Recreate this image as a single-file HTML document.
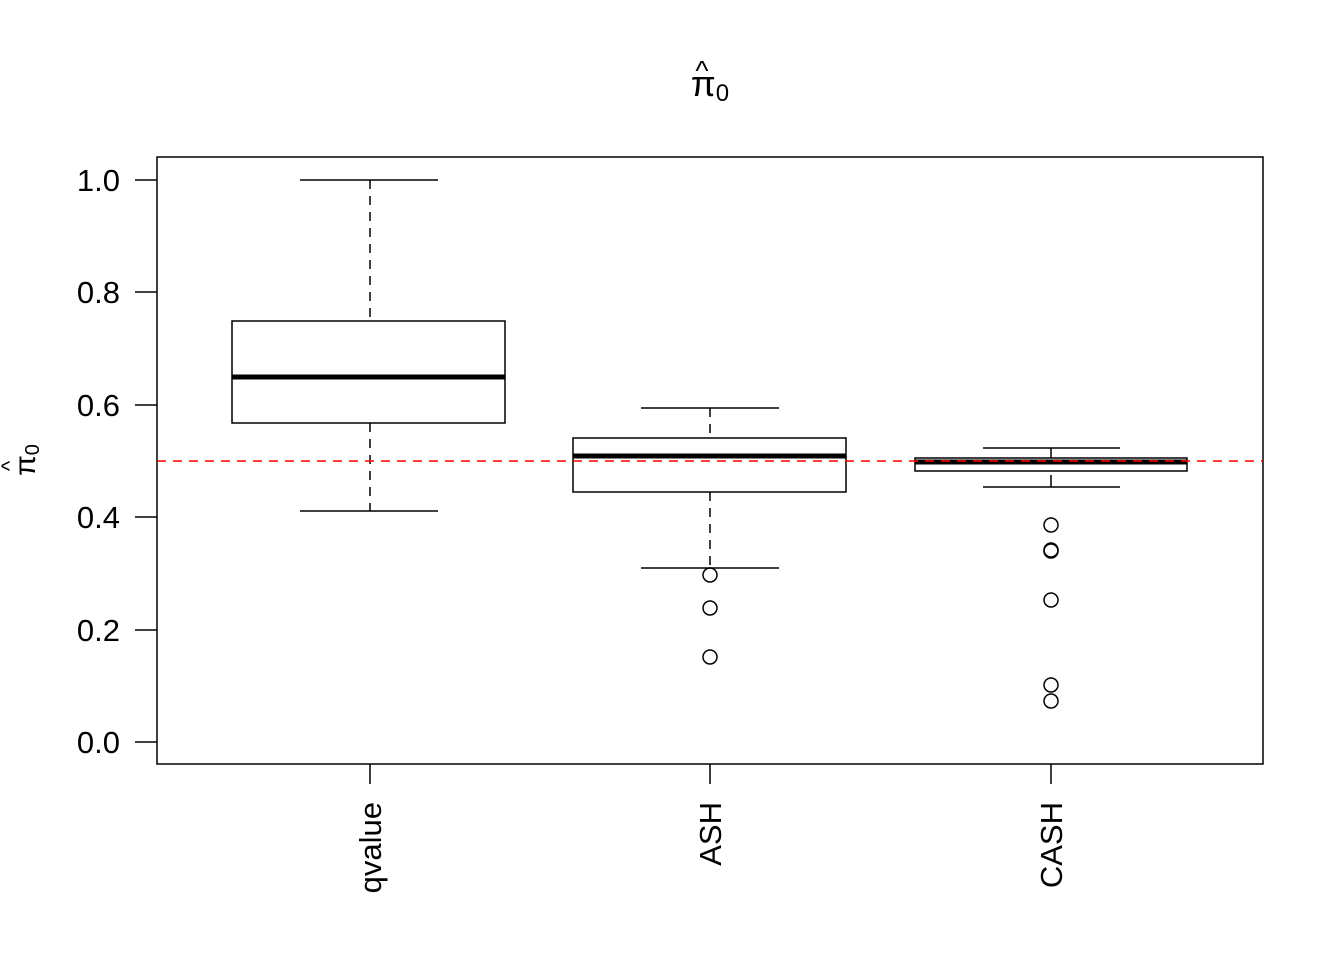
<!DOCTYPE html>
<html><head><style>body{margin:0;background:#fff}svg{display:block}text{font-family:"Liberation Sans",Arial,sans-serif;fill:#000}</style></head><body>
<svg width="1344" height="960" viewBox="0 0 1344 960" xmlns="http://www.w3.org/2000/svg">
<rect width="1344" height="960" fill="#fff"/>
<text x="710" y="96" font-size="36" text-anchor="middle">π<tspan font-size="24" dy="5">0</tspan></text>
<text x="702" y="80" font-size="28" text-anchor="middle">^</text>
<rect x="157" y="157" width="1106" height="607" fill="none" stroke="#000" stroke-width="1.5"/>
<g stroke="#000" stroke-width="1.5" fill="none">
<line x1="135" y1="180" x2="157" y2="180"/><line x1="135" y1="292" x2="157" y2="292"/><line x1="135" y1="405" x2="157" y2="405"/><line x1="135" y1="517" x2="157" y2="517"/><line x1="135" y1="630" x2="157" y2="630"/><line x1="135" y1="742" x2="157" y2="742"/>
<line x1="370" y1="764" x2="370" y2="784"/><line x1="710" y1="764" x2="710" y2="784"/><line x1="1051" y1="764" x2="1051" y2="784"/>
</g>
<g font-size="31" text-anchor="end">
<text x="120" y="191">1.0</text><text x="120" y="303">0.8</text><text x="120" y="416">0.6</text><text x="120" y="528">0.4</text><text x="120" y="641">0.2</text><text x="120" y="753">0.0</text>
</g>
<g font-size="31" text-anchor="end">
<text transform="translate(381,802) rotate(-90)">qvalue</text>
<text transform="translate(721,802) rotate(-90)">ASH</text>
<text transform="translate(1062,802) rotate(-90)">CASH</text>
</g>
<g transform="translate(35,460) rotate(-90)"><text x="0" y="0" font-size="30" text-anchor="middle">π<tspan font-size="20" dy="4">0</tspan></text><text x="-6" y="-18" font-size="22" text-anchor="middle">^</text></g>
<g stroke="#000" stroke-width="1.5" fill="none">
<line x1="370" y1="180" x2="370" y2="321" stroke-dasharray="9,7"/><line x1="370" y1="423" x2="370" y2="511" stroke-dasharray="9,7"/>
<line x1="300" y1="180" x2="438" y2="180"/><line x1="300" y1="511" x2="438" y2="511"/>
<rect x="232" y="321" width="273" height="102"/>
<line x1="232" y1="377" x2="505" y2="377" stroke-width="5"/>
<line x1="710" y1="408" x2="710" y2="438" stroke-dasharray="9,7"/><line x1="710" y1="492" x2="710" y2="568" stroke-dasharray="9,7"/>
<line x1="641" y1="408" x2="779" y2="408"/><line x1="641" y1="568" x2="779" y2="568"/>
<rect x="573" y="438" width="273" height="54"/>
<line x1="573" y1="456" x2="846" y2="456" stroke-width="5"/>
<circle cx="710" cy="575" r="7"/><circle cx="710" cy="608" r="7"/><circle cx="710" cy="657" r="7"/>
<line x1="1051" y1="448" x2="1051" y2="458"/><line x1="1051" y1="475" x2="1051" y2="487"/>
<line x1="983" y1="448" x2="1120" y2="448"/><line x1="983" y1="487" x2="1120" y2="487"/>
<rect x="915" y="458" width="272" height="13"/>
<line x1="915" y1="462" x2="1187" y2="462" stroke-width="5"/>
<circle cx="1051" cy="525" r="7"/><circle cx="1051" cy="550" r="7"/><circle cx="1051" cy="551" r="7"/><circle cx="1051" cy="600" r="7"/><circle cx="1051" cy="685" r="7"/><circle cx="1051" cy="701" r="7"/>
</g>
<line x1="157" y1="461" x2="1263" y2="461" stroke="#f00" stroke-width="1.5" stroke-dasharray="9,7"/>
</svg>
</body></html>
